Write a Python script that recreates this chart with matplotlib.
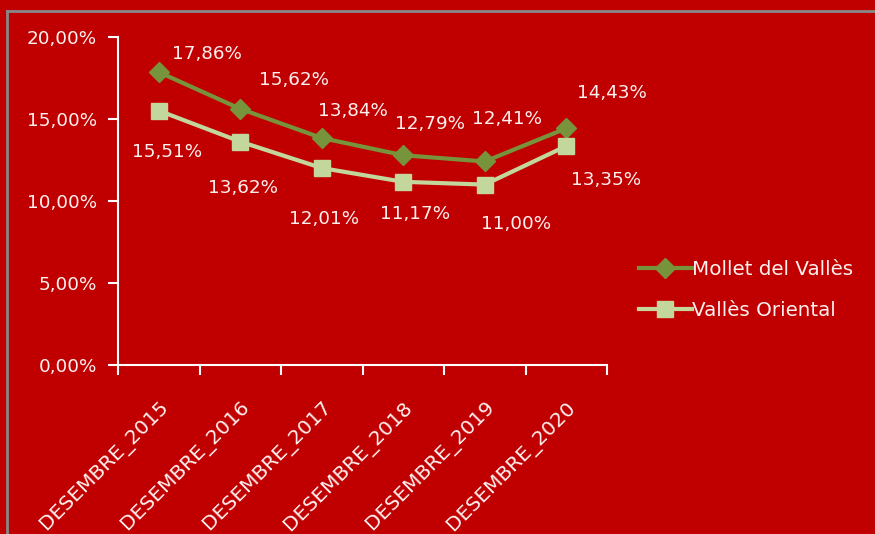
import matplotlib
matplotlib.use("Agg")
import matplotlib.pyplot as plt
from matplotlib.lines import Line2D

categories = ["DESEMBRE_2015", "DESEMBRE_2016", "DESEMBRE_2017",
              "DESEMBRE_2018", "DESEMBRE_2019", "DESEMBRE_2020"]
mollet = [17.86, 15.62, 13.84, 12.79, 12.41, 14.43]
valles = [15.51, 13.62, 12.01, 11.17, 11.00, 13.35]
y_ticks = [0, 5, 10, 15, 20]
series_names = ["Mollet del Vallès", "Vallès Oriental"]

BG = "#C00000"
C_MOLLET = "#77933C"
C_VALLES = "#C3D69B"
TXT = "#FFF0F0"
FS = 13.2

plt.rcParams["font.family"] = ["DejaVu Sans"]

fig = plt.figure(figsize=(8.75, 5.34), dpi=100)
fig.patch.set_facecolor(BG)
ax = fig.add_axes([118/875, 1-365/534, (607-118)/875, (365-37)/534])
ax.set_facecolor(BG)

x = list(range(len(categories)))
ax.plot(x, mollet, color=C_MOLLET, lw=3, marker="D", ms=10, mec=C_MOLLET, mfc=C_MOLLET, zorder=3)
ax.plot(x, valles, color=C_VALLES, lw=3, marker="s", ms=12, mec=C_VALLES, mfc=C_VALLES, zorder=3)

ax.set_xlim(-0.5, len(categories) - 0.5)
ax.set_ylim(0, 20)
ax.set_yticks(y_ticks)
ax.set_yticklabels([f"{v:.2f}%".replace(".", ",") for v in y_ticks], color=TXT, fontsize=FS)
ax.set_xticks([i - 0.5 for i in range(len(categories) + 1)], minor=False)
ax.set_xticklabels([])
ax.set_xticks(x, minor=True)
ax.set_xticklabels(categories, minor=True, rotation=45, ha="right",
                   rotation_mode="anchor", color=TXT, fontsize=14.5)
ax.tick_params(axis="x", which="minor", length=0, pad=24)
ax.tick_params(axis="x", which="major", length=7, width=1.5, color="white", direction="out")
ax.tick_params(axis="y", length=7, width=1.5, color="white", direction="out", pad=8)

for s in ["top", "right"]:
    ax.spines[s].set_visible(False)
for s in ["left", "bottom"]:
    ax.spines[s].set_color("white")
    ax.spines[s].set_linewidth(1.5)

# labels
m_off = [(48, 18), (54, 29), (31, 27), (27, 31), (22, 42), (46, 35)]
v_off = [(8, -41), (3, -46), (2, -51), (12, -32), (31, -39), (40, -34)]
for i in x:
    ax.annotate(f"{mollet[i]:.2f}%".replace(".", ","), (i, mollet[i]),
                xytext=m_off[i], textcoords="offset pixels", ha="center", va="center",
                color=TXT, fontsize=FS)
    ax.annotate(f"{valles[i]:.2f}%".replace(".", ","), (i, valles[i]),
                xytext=v_off[i], textcoords="offset pixels", ha="center", va="center",
                color=TXT, fontsize=FS)

handles = [Line2D([], [], color=C_MOLLET, lw=3, marker="D", ms=10),
           Line2D([], [], color=C_VALLES, lw=3, marker="s", ms=12)]
leg = fig.legend(handles, series_names, loc="center left",
                 bbox_to_anchor=(621/875, 1-290/534), frameon=False,
                 fontsize=14.3, labelcolor=TXT, handlelength=2.65, handletextpad=0.0,
                 labelspacing=1.1)

# grey chart border
fig.add_artist(Line2D([7/875, 7/875], [0, 1-11/534], transform=fig.transFigure, color="#888888", lw=2))
fig.add_artist(Line2D([7/875, 1], [1-11/534, 1-11/534], transform=fig.transFigure, color="#888888", lw=2))

fig.savefig("out.png", dpi=100, facecolor=BG)
